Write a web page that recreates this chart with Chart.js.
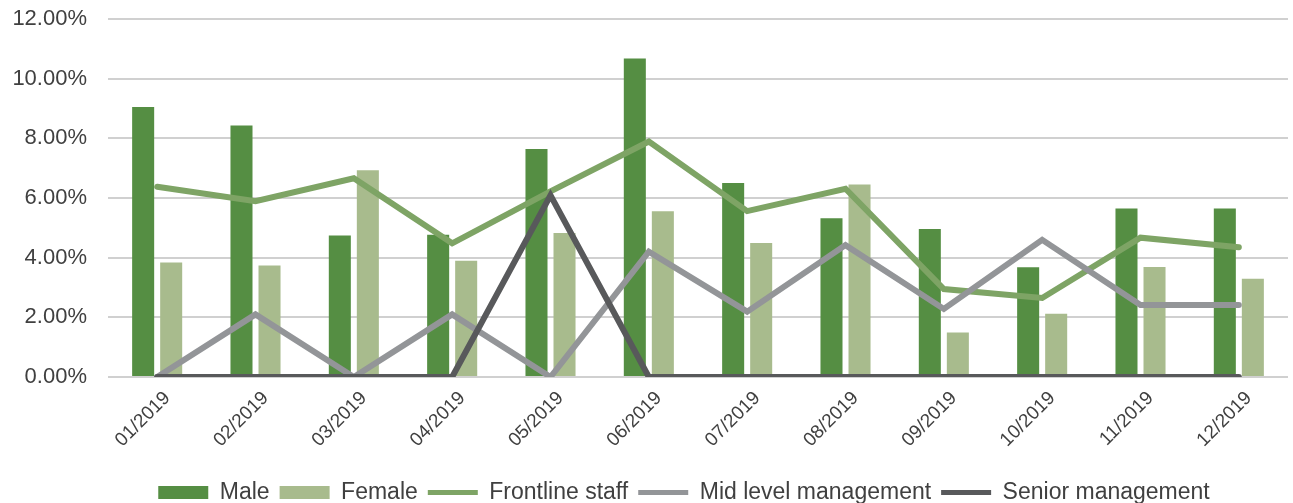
<!DOCTYPE html>
<html>
<head>
<meta charset="utf-8">
<script src="https://cdn.jsdelivr.net/npm/chart.js@4/dist/chart.umd.min.js"></script>
<style>
  html, body { margin: 0; padding: 0; background: #ffffff; }
  #wrap { width: 1293px; height: 503px; position: relative; }
</style>
</head>
<body>
<div id="wrap"><canvas id="c" width="1293" height="503"></canvas></div>
<script>
const categories = ['01/2019','02/2019','03/2019','04/2019','05/2019','06/2019','07/2019','08/2019','09/2019','10/2019','11/2019','12/2019'];
const male      = [9.05, 8.43, 4.74, 4.77, 7.64, 10.68, 6.50, 5.32, 4.96, 3.68, 5.65, 5.65];
const female    = [3.84, 3.74, 6.93, 3.90, 4.83, 5.56, 4.49, 6.45, 1.49, 2.12, 3.69, 3.29];
const frontline = [6.38, 5.89, 6.66, 4.48, 6.22, 7.89, 5.56, 6.31, 2.95, 2.65, 4.67, 4.35];
const midLevel  = [0, 2.10, 0, 2.10, 0, 4.20, 2.19, 4.42, 2.28, 4.60, 2.41, 2.41];
const senior    = [0, 0, 0, 0, 6.09, 0, 0, 0, 0, 0, 0, 0];
const yTicks    = [0, 2, 4, 6, 8, 10, 12];

const FONT = "'Liberation Sans', Arial, sans-serif";
const TEXT = '#404040';

const shiftLegend = {
  id: 'shiftLegend',
  afterLayout(chart) {
    if (chart.legend) { chart.legend.left += 35; chart.legend.right += 35; }
  }
};

// Draw the rotated category labels from the x scale's own tick positions
const xLabels = {
  id: 'xLabels',
  afterDraw(chart) {
    const s = chart.scales.x, ctx = chart.ctx;
    ctx.save();
    ctx.font = "19px " + FONT;
    ctx.fillStyle = TEXT;
    ctx.textAlign = 'right';
    ctx.textBaseline = 'middle';
    s.ticks.forEach((t, i) => {
      const x = s.getPixelForTick(i) + 10;
      const y = s.top + 18;
      ctx.save();
      ctx.translate(x, y);
      ctx.rotate(-Math.PI / 4);
      ctx.fillText(categories[i], 0, 0);
      ctx.restore();
    });
    ctx.restore();
  }
};

const lineStyle = { borderWidth: 6, pointRadius: 0, tension: 0, borderCapStyle: 'round', borderJoinStyle: 'miter' };

new Chart(document.getElementById('c'), {
  type: 'bar',
  data: {
    labels: categories,
    datasets: [
      { type: 'bar', label: 'Male', data: male, backgroundColor: '#558e43', order: 3,
        categoryPercentage: 0.57, barPercentage: 0.786 },
      { type: 'bar', label: 'Female', data: female, backgroundColor: '#a8bb8d', order: 4,
        categoryPercentage: 0.57, barPercentage: 0.786 },
      Object.assign({ type: 'line', label: 'Frontline staff', data: frontline, borderColor: '#7ea465', backgroundColor: '#7ea465', order: 2 }, lineStyle),
      Object.assign({ type: 'line', label: 'Mid level management', data: midLevel, borderColor: '#939598', backgroundColor: '#939598', order: 1 }, lineStyle),
      Object.assign({ type: 'line', label: 'Senior management', data: senior, borderColor: '#58595b', backgroundColor: '#58595b', order: 0 }, lineStyle)
    ]
  },
  plugins: [shiftLegend, xLabels],
  options: {
    responsive: false,
    animation: false,
    layout: { padding: { left: 10, right: 5, top: 0, bottom: -11 } },
    scales: {
      x: {
        offset: true,
        grid: { display: false, drawTicks: false },
        border: { display: false },
        ticks: { display: false },
        afterFit: s => { s.paddingLeft = 0; s.paddingRight = 0; s.height = 94; }
      },
      y: {
        min: 0, max: 12,
        afterBuildTicks: axis => { axis.ticks = yTicks.map(v => ({ value: v })); },
        grid: { color: '#d0d0d0', lineWidth: 2, drawTicks: false },
        border: { display: false },
        ticks: { color: TEXT, font: { family: FONT, size: 22 }, padding: 21,
                 callback: v => Number(v).toFixed(2) + '%' },
        afterFit: s => { s.width = 98; s.paddingTop = 19; s.paddingBottom = 0; }
      }
    },
    plugins: {
      tooltip: { enabled: false },
      legend: {
        position: 'bottom',
        labels: {
          color: TEXT,
          font: { family: FONT, size: 23 },
          usePointStyle: true,
          boxWidth: 50,
          boxHeight: 13,
          pointStyleWidth: 50,
          padding: 10,
          generateLabels: chart => chart.data.datasets.map((ds, i) => ({
            text: ds.label,
            fillStyle: ds.type === 'line' ? ds.borderColor : ds.backgroundColor,
            strokeStyle: ds.type === 'line' ? ds.borderColor : ds.backgroundColor,
            lineWidth: ds.type === 'line' ? 5 : 0,
            pointStyle: ds.type === 'line' ? 'line' : 'rect',
            fontColor: TEXT,
            hidden: false,
            datasetIndex: i
          })),
          sort: (a, b) => a.datasetIndex - b.datasetIndex
        }
      }
    }
  }
});
</script>
</body>
</html>
